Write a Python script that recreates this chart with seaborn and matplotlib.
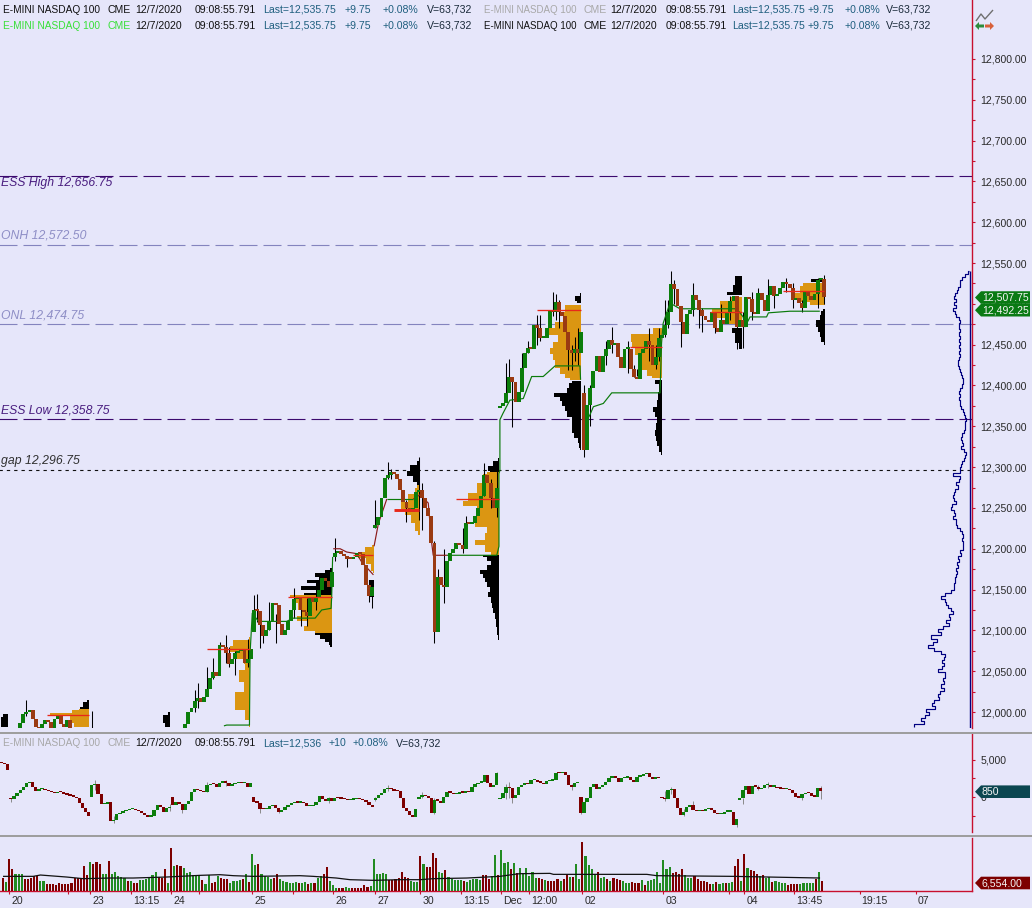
import numpy as np
import matplotlib
matplotlib.use("Agg")
import matplotlib.pyplot as plt
import seaborn as sns
from matplotlib.lines import Line2D
from matplotlib.patches import Polygon, Rectangle
from matplotlib.ticker import FixedLocator, FuncFormatter
from matplotlib.transforms import IdentityTransform, ScaledTranslation

W, H = 1032, 908
BG = "#E6E6FA"
AXIS_RED = "#C8102E"
UP = "#0B7D0B"
DOWN = "#9A3A12"
ORANGE = "#DB9612"
BLACK = "#000000"
BAR_PX = 3.115

# ---- main pane: closing prices per segment (first bar, values) ----
seg_a = (3, [11978, 11978, 11978, 11986, 11997, 12000, 12003, 11992, 11982, 11978, 11985, 11990, 11988, 11978, 11992,
             11995, 11985, 11982, 11990, 11980, 11976])
seg_b = (59, [11985, 12000, 12005, 12014, 12017, 12012, 12018, 12028, 12042, 12049, 12044, 12082, 12080, 12072, 12059,
              12065, 12072, 12075, 12077, 12060, 12065, 12077])
seg_c = (81, [12125, 12124, 12106, 12093, 12100, 12112, 12134, 12131, 12108, 12094, 12100, 12112, 12125, 12138, 12140,
              12125, 12122, 12118, 12141, 12135, 12140, 12150, 12164, 12160, 12153, 12171])
seg_d = (107, [12195, 12197, 12193, 12191, 12188, 12187, 12190, 12195, 12194, 12180, 12155, 12142, 12153])
seg_e = (120, [12229, 12239, 12262, 12287, 12290, 12294, 12292, 12285, 12272, 12257, 12250, 12245, 12250, 12270])
seg_f = (134, [12272, 12262, 12250, 12240, 12207, 12098, 12165, 12155, 12153, 12185, 12195, 12200, 12207, 12205, 12200,
               12232, 12230, 12232, 12240, 12250, 12265, 12290, 12280, 12262, 12250, 12275])
seg_g = (160, [12375, 12378, 12391, 12410, 12404, 12380, 12392, 12422, 12440, 12446, 12445, 12474, 12470, 12458, 12458,
               12471, 12492, 12490, 12502, 12490, 12485, 12465, 12443, 12440, 12445, 12440, 12465])
seg_h = (187, [12321, 12376, 12397, 12418, 12436, 12416, 12436, 12445, 12456, 12450, 12452, 12435, 12422, 12445, 12445,
               12420, 12410, 12408, 12440, 12445, 12455, 12450, 12425, 12435, 12458, 12462])
seg_i = (213, [12474, 12490, 12524, 12518, 12497, 12478, 12463, 12488, 12492, 12511, 12505, 12492, 12485, 12480, 12478,
               12490, 12470, 12465, 12480, 12475, 12490, 12503, 12510, 12472, 12480])
seg_j = (238, [12472, 12508, 12506, 12490, 12487, 12513, 12505, 12491, 12511, 12522, 12510, 12512, 12520, 12527, 12524,
               12520, 12505, 12507, 12501, 12495, 12515, 12510, 12505, 12512, 12529, 12530, 12508])
segments = [seg_a, seg_b, seg_c, seg_d, seg_e, seg_f, seg_g, seg_h, seg_i, seg_j]
gap_bars = [59, 81, 107, 120, 134, 160, 187]
gap_opens = [11975, 12098, 12190, 12225, 12270, 12372, 12391]

wick_bars = [8, 29, 62, 63, 66, 68, 70, 72, 73, 75, 79, 81, 82, 83, 84, 86, 88, 94, 96, 98, 101, 107, 111, 118, 119,
             120, 124, 125, 130, 134, 135, 139, 140, 142, 148, 149, 155, 157, 159, 162, 163, 164, 167, 169, 172, 173,
             177, 178, 179, 182, 183, 184, 185, 187, 189, 194, 196, 201, 203, 204, 208, 210, 211, 213, 214, 215, 216,
             218, 222, 224, 225, 229, 231, 234, 236, 238, 241, 243, 246, 248, 252, 254, 257, 262, 264]
wick_high = [12015, 12001, 12027, 12036, 12055, 12066, 12086, 12094, 12080, 12075, 12090, 12143, 12145, 12120, 12100,
             12135, 12120, 12152, 12140, 12140, 12155, 12213, 12190, 12160, 12160, 12260, 12306, 12298, 12260, 12312,
             12280, 12210, 12175, 12200, 12225, 12240, 12305, 12285, 12300, 12428, 12432, 12405, 12440, 12455, 12486,
             12486, 12515, 12512, 12505, 12465, 12450, 12460, 12470, 12400, 12400, 12455, 12472, 12455, 12425, 12420,
             12470, 12450, 12470, 12505, 12505, 12540, 12529, 12480, 12525, 12500, 12495, 12490, 12500, 12510, 12510,
             12490, 12515, 12520, 12530, 12520, 12532, 12525, 12505, 12532, 12535]
wick_low = [11995, 11970, 12000, 12005, 12020, 12040, 12050, 12060, 12055, 12045, 12055, 12100, 12110, 12078, 12085,
            12100, 12085, 12115, 12105, 12105, 12125, 12185, 12178, 12135, 12127, 12225, 12285, 12285, 12233, 12235,
            12223, 12085, 12146, 12134, 12195, 12210, 12265, 12250, 12239, 12385, 12395, 12349, 12405, 12440, 12450,
            12455, 12485, 12480, 12470, 12419, 12419, 12430, 12425, 12312, 12350, 12425, 12440, 12415, 12410, 12412,
            12430, 12420, 12430, 12460, 12470, 12500, 12500, 12447, 12485, 12470, 12465, 12464, 12470, 12480, 12445,
            12446, 12480, 12490, 12500, 12495, 12515, 12495, 12490, 12495, 12500]

# ---- session volume profiles: (prices, widths in bars) ----
p0a_end, p0a_black = 2.1, ([11982, 11990, 11998], [2.3, 2.3, 1.5])
p0b_end, p0b_black = 54.0, ([11982, 11992, 12000], [1.5, 2.3, 0.5])
p1_end = 28.1
p1_orange = ([11982, 11992, 11994, 11996, 11998, 12000, 12002, 12004], [4.8, 6.1, 6, 12.5, 12.5, 5.5, 5.5, 3.2])
p1_black = ([12004, 12009, 12015], [3.0, 2, 0.7])
p2_end = 79.8
p2_orange = ([11982, 11998, 12007, 12011, 12023, 12027, 12035, 12039, 12047, 12056, 12062, 12068, 12078, 12084, 12092],
             [0.2, 1.6, 5, 5, 5, 2.1, 2.1, 3.7, 3.7, 1.6, 2, 4.3, 6.4, 5.4, 0.2])
p3_end = 106.0
p3_low = ([12080, 12084, 12088, 12092, 12097], [0.5, 1, 2.1, 3.8, 5.5])
p3_orange = ([12097, 12101, 12109, 12115, 12121, 12129, 12137, 12143], [5.3, 9, 8, 11.2, 9.6, 10.7, 11.8, 13.4])
p3_high = ([12143, 12148, 12152, 12156, 12160, 12164, 12168, 12172, 12177], [9, 4, 10, 5, 8, 4, 5.3, 2.1, 0.5])
p4_end = 119.5
p4_low = ([12141, 12162], [1.5, 1.5])
p4_orange = ([12170, 12176, 12186, 12192, 12199, 12205], [0.2, 0.8, 2.4, 5, 2.9, 0.4])
p5_end = 134.3
p5_orange = ([12217, 12227, 12237, 12245, 12252, 12262, 12272, 12278], [0.5, 1.6, 2.7, 4.8, 5.9, 3.7, 1.6, 1])
p5_high = ([12278, 12286, 12292, 12298, 12307], [1, 2.1, 4, 3.2, 1])
p6_end = 159.7
p6_low = ([12088, 12100, 12109, 12118, 12125, 12131, 12137, 12144, 12150, 12156, 12162, 12167, 12172, 12177, 12182, 12187, 12192],
          [0.2, 0.5, 0.8, 1.3, 1.8, 2.1, 2.4, 3.4, 2.9, 4, 4.5, 5, 6.1, 4, 2.4, 4, 5])
p6_orange = ([12192, 12201, 12207, 12215, 12223, 12231, 12243, 12250, 12254, 12264, 12272, 12288, 12294],
             [2.4, 4.5, 7.7, 4.5, 4, 7.7, 7.2, 7, 11.5, 9.9, 7.2, 5, 4])
p6_high = ([12294, 12297, 12305, 12311], [3, 3.4, 2, 0.2])
p7_end = 185.9
p7_low = ([12321, 12327, 12333, 12339, 12345, 12352, 12358, 12366, 12372, 12378, 12383, 12388, 12394, 12400, 12405],
          [0.1, 0.5, 0.8, 2, 2.6, 2.8, 2.9, 4.5, 5, 6, 6.5, 8.5, 4.5, 3.6, 2.9])
p7_orange = ([12407, 12411, 12417, 12427, 12435, 12443, 12448, 12458, 12466, 12474, 12482, 12499],
             [3.4, 5, 6.6, 8.3, 8.8, 9.8, 8.8, 7.2, 10.4, 8.3, 5.6, 5])
p7_high = ([12501, 12507, 12513], [1.3, 1.8, 0.2])
p8_end = 212.0
p8_low = ([12315, 12322, 12329, 12335, 12341, 12350, 12358, 12364, 12370, 12378, 12387, 12396, 12407],
          [0.3, 1, 1.6, 2, 2.1, 1.9, 1.6, 2.2, 2.9, 1.6, 1.2, 1, 2.1])
p8_orange = ([12409, 12415, 12423, 12431, 12443, 12450, 12456, 12470], [3.2, 4.8, 7, 6.4, 8.6, 9.6, 10, 2.7])
p9_end = 237.6
p9_low = ([12445, 12458, 12470], [1, 2.1, 3.2])
p9_orange = ([12472, 12478, 12488, 12499, 12509], [1, 4.8, 9.6, 7, 3.7])
p9_high = ([12511, 12517, 12529, 12539], [4.8, 2.7, 2.1, 0])
p10_end = 264.5
p10_low = ([12450, 12456, 12462, 12468, 12476, 12484, 12489, 12494], [0.4, 1.3, 1.8, 2.3, 2.9, 1.8, 1.3, 0.8])
p10_orange = ([12499, 12505, 12509, 12517, 12526], [5, 8.8, 10.4, 8.3, 7.2])
p10_high = ([12527, 12535], [4.5, 0.2])

poc_price = [11996, 12077, 12141, 12192, 12247, 12261, 12493, 12447, 12490, 12516]
poc_start = [14.5, 65.9, 92, 113, 126, 146, 171.8, 201.7, 227.4, 251]
poc_end = [28.1, 79.8, 106, 119.4, 134, 159.7, 185.9, 212, 237.6, 264]
poc_width = [1, 1, 1, 1, 2.2, 1, 1, 1, 1, 1]

# ---- session VWAP line pieces ----
vwap_g1_x = [71.4, 72.3, 79.6, 79.8, 80.5, 82.5, 91.5, 93.7, 100.7, 102.8, 105.8, 106, 106.3]
vwap_g1_y = [11983, 11984, 11984, 12072, 12121, 12111, 12111, 12115, 12115, 12125, 12127, 12141, 12190]
vwap_r1_x = [106.5, 108.7, 110.8, 114, 115.6, 119.4]
vwap_r1_y = [12200, 12200, 12196, 12194, 12184, 12168]
vwap_r2_x = [119.6, 121, 123.7]
vwap_r2_y = [12203, 12231, 12261]
vwap_g2_x = [123.7, 132.2]
vwap_g2_y = [12261, 12261]
vwap_r3_x = [132.2, 134.3, 137, 138.1, 138.6, 143]
vwap_r3_y = [12261, 12266, 12256, 12207, 12192, 12192]
vwap_g3_x = [143, 159, 159.7, 159.7, 160, 160, 161, 163.2, 167.5, 170.2, 173.9, 177.7, 185.7, 185.9]
vwap_g3_y = [12192, 12192, 12203, 12292, 12296, 12358, 12366, 12382, 12384, 12411, 12411, 12424, 12424, 12407]
vwap_g4_x = [186.8, 188.9, 190, 193.2, 195.9, 211.4, 211.9, 212.4, 214.6, 217.8, 236, 238.1, 238.7, 240.3, 245.6, 246.2, 253.1, 262.7]
vwap_g4_y = [12350, 12364, 12374, 12378, 12391, 12391, 12452, 12476, 12501, 12494, 12494, 12484, 12472, 12484, 12484, 12489, 12491, 12491]

# ---- composite profile on the right (top row 12,540, one row per 3.75 points) ----
comp_top = 12540
comp_step = 3.75
comp_vol = [0.1, 0.6, 1.4, 2.3, 3.2, 3.2, 3.6, 3.9, 4.7, 4.9, 4.2, 5, 4.3, 5.4, 4.8, 4.2, 3.4, 2.9, 3.3, 3.3, 3, 3.3, 3,
            3.5, 3.2, 3.4, 3, 3.5, 3, 3.4, 3.6, 3.8, 3.3, 3.1, 2.7, 2.3, 2.1, 2.2, 2.4, 2.9, 3.4, 3.1, 3.3, 3, 3.2, 2.6,
            2.2, 1.9, 1.3, 1.0, 1.4, 1.6, 1.3, 1.9, 2.4, 2.6, 2.5, 2.2, 2.6, 1.7, 1.2, 1.5, 1.9, 2.4, 2.7, 3, 3.2, 5.2,
            2.9, 3.4, 4.2, 3.8, 4.6, 4.9, 5.3, 5.1, 4.3, 5.6, 6, 5, 4.7, 5.2, 4.4, 4.4, 3.9, 3, 2.5, 2.0, 2.5, 2.2, 2,
            2.1, 3, 2.8, 3.6, 3.3, 4, 3.6, 4.4, 3.9, 4.2, 4.5, 4.5, 5, 4.9, 6, 7.8, 9.2, 8, 7.6, 6.9, 5.9, 5.3, 6.5, 6.2,
            7.6, 6.6, 8.4, 10, 9.2, 12.2, 10.4, 11.6, 13.4, 11.4, 9.1, 7.8, 8.1, 8.8, 8.2, 8.7, 10, 7.9, 7.8, 8.6, 8.2,
            9.3, 8.2, 9.6, 10, 9.7, 11.3, 12, 11.2, 14, 13.1, 14.4, 15.7, 14.7, 17.7]

# ---- horizontal levels ----
level_names = ["ESS High 12,656.75", "ONH 12,572.50", "ONL 12,474.75", "ESS Low 12,358.75", "gap 12,296.75"]
level_values = [12656.75, 12572.50, 12474.75, 12358.75, 12296.75]
level_colors = ["#3C0A6E", "#8484BE", "#8484BE", "#3C0A6E", "#101010"]
level_text_colors = ["#4A1E80", "#8E8EC6", "#8E8EC6", "#4A1E80", "#303030"]

# ---- middle pane closes, bars 0..263 ----
mid_close = [4500, 4450, 3600, -250, 128, 485, 930, 1380, 1826, 1960, 1380, 800, 1020, 1110, 890, 755, 665, 485, 665, 620,
             395, 306, 172, 38, -185, -766, -1527, -1975, -2555, 1600, 1740, 350, -945, -945, -680, -3270, -3090, -2285,
             -2200, -1885, -1750, -1660, -1570, -1750, -1885, -2110, -2375, -2644, -2555, -1750, -1124, -1392, -2020,
             -1482, -1303, -1124, -722, -945, -1750, -945, -500, 710, 1066, 932, 800, 665, 1600, 1740, 1690, 1380, 1915,
             2000, 1915, 1470, 1690, 1826, 1915, 1826, 1826, 1290, 1826, -632, -766, -1570, -1660, -1570, -1214, -1035,
             -1527, -1975, -1750, -1392, -1080, -856, -677, -766, -722, -856, -1214, -1214, -1124, -632, 172, -230, -500,
             -185, -543, -95, -185, -230, -275, -409, -365, -320, -275, -320, -409, -632, -1124, -1348, -95, 260, 575,
             1020, 1110, 1020, 843, 755, -185, -1527, -1885, -2420, -2644, -1660, 38, 260, 128, -185, -2110, -409, -500,
             -766, 38, 620, 575, 350, 395, 665, 575, 800, 620, 1380, 1690, 1915, 2050, 2950, 1826, 1380, 1600, 3167, -95,
             485, 1380, 1156, -185, 260, 1380, 1600, 1826, 1740, 2273, 2273, 2050, 1915, 1740, 2140, 2185, 2273, 3255,
             3167, 3390, 2950, 1600, 1380, 1826, 1915, -2110, -632, -95, 1290, 1740, 1110, 1290, 1600, 2050, 2585, 2810,
             2495, 2050, 2495, 2585, 2630, 2273, 2050, 2720, 2810, 3033, 3167, 2720, 2452, 2585, 2495, -185, -275, 932,
             1020, -185, -1527, -2420, -1975, -1303, -1080, -1750, -1885, -1750, -1885, -1616, -1527, -1750, -2197, -2285,
             -2285, -1975, -1975, -1975, -3760, -3000, -185, 932, 1470, 350, 1470, 1380, 1020, 1156, 1600, 1600, 1380,
             1380, 1156, 1110, 1066, 1110, 932, 485, 38, -95, 395, 575, 485, 172, 38, 1156, 800]
mid_gap_bars = [0, 3, 29, 55, 81, 120, 134, 160, 186, 212, 237]
mid_gap_opens = [4600, -100, -50, -50, -40, -400, -300, -300, -50, -150, -400]
mid_wick_bars = [3, 30, 36, 54, 58, 66, 72, 83, 89, 105, 120, 124, 135, 139, 159, 162, 163, 164, 183, 186, 213, 215, 219,
                 222, 236, 238, 243, 246, 257, 263]
mid_wick_high = [-100, 2300, -2500, -900, -1000, 2000, 2300, -1000, -1500, 0, 0, 1600, 700, -200, 3400, 1700, 2000, 0, 1700,
                 0, 800, 1300, -1600, -500, -2900, -200, 1600, 2000, 300, 1500]
mid_wick_low = [-700, 1000, -3500, -1900, -2100, 700, 1500, -2100, -2200, -800, -500, 800, -200, -2300, 2600, -300, -100,
                -800, 1000, -2300, -500, 400, -2500, -1500, -4000, -900, 900, 1200, -400, -300]

# ---- volume pane: scale units per bar, 'r' down / 'g' up ----
vol_unit = 233
vol_a = [39, 28, 97, 67, 52, 52, 50, 35, 35, 38,
         45, 45, 30, 30, 22, 22, 22, 18, 25, 20,
         20, 22, 25, 38, 38, 38, 75, 48, 88, 80,
         88, 82, 52, 50, 90, 50, 57, 45, 42, 40,
         30, 30, 25, 25, 32, 32, 35, 38, 48, 57,
         42, 40, 65, 25, 130,
         75, 78, 75, 68, 55, 58, 48, 48, 48, 32,
         22, 48, 25, 28, 45, 38, 35, 35, 25, 30,
         30, 32, 35, 50, 28, 112, 78, 82, 50, 45,
         42, 35, 40, 50, 35, 30, 28, 25, 25, 28,
         25, 25, 28, 22, 25, 25, 38, 45, 52, 72,
         30, 18, 10, 10, 10, 12, 10, 10, 10, 10,
         10, 18, 12, 14, 97, 52, 52, 55, 52, 33,
         33, 35, 38, 58, 42, 38, 30, 28, 28, 105,
         82, 72, 72, 115, 100, 58, 55, 62, 42, 35,
         32, 32, 32, 30, 28, 32, 35, 35, 32, 48,
         48, 35, 45, 108, 48, 124, 85, 88, 65, 85,
         55, 68, 55]
col_a = ("rgrrgggrrr" "rrggrrrrrr" "rrrrrrrrgr" "rrggrggggg" "rgrrgggggg" "rrrgr"
         "grrggggggr" "ggrrgrrrgg" "ggrgrggrgg" "ggrrgggggg" "rggrgrggrr"
         "gggrrggrrr" "rrrggggggr" "rrrrrrgggr" "grrrrggrgg" "gggrgggggr" "rrggrgggrg" "rgg")
vol_b = [68, 45, 58, 40, 38, 35, 32, 30, 30, 30,
         35, 30, 35, 52, 42, 42, 80, 35, 147, 105,
         78, 65, 50, 57, 40, 42, 35, 30, 38, 35,
         32, 30, 25, 25, 28, 25, 25, 32, 18, 30,
         32, 35, 58, 25, 94, 65, 72, 55, 58, 52,
         65, 48, 40, 38, 45, 35, 30, 30, 28, 22,
         22, 28, 22, 25, 25, 25, 28, 75, 95, 30,
         112, 68, 62, 60, 50, 45, 48, 38, 42, 28,
         30, 28, 25, 25, 18, 20, 22, 22, 22, 25,
         25, 25, 25, 35, 58, 29]
col_b = ("ggggrrgrrr" "rgrrgrggrg" "gggrggrgrr" "rgggrrrgrg" "gggggggrrr"
         "rgggrrrrrr" "grggrggrrg" "rgrrrgrggr" "ggggrrrrgg" "gggrgr")
ma_bars = [0, 9.7, 12, 20.4, 25.8, 34.4, 41.8, 52.5, 63.2, 69.7, 74, 80.4, 95.3, 99.6, 107, 111.4, 119, 127.4, 134, 138,
           148.9, 159.5, 164.9, 166, 175.6, 176.7, 206.7, 209.9, 234.5, 262.3]
ma_height = [44, 44, 48, 42, 37, 39, 39, 42, 47, 49, 46, 44, 46, 44, 39, 34, 32, 34, 34, 37, 39, 44, 51, 52, 53, 50, 50,
             46, 44, 39]

x_tick_bars = [2, 28, 41, 54, 80, 106, 119.5, 134, 147, 160, 169, 186, 212, 238, 254, 275, 293]
x_tick_labels = ["20", "23", "13:15", "24", "25", "26", "27", "30", "13:15", "Dec", "12:00", "02", "03", "04", "13:45",
                 "19:15", "07"]
x_minor_bars = [21, 63, 93, 233]

sns.set_theme(style="white")
plt.rcParams["font.family"] = ["Liberation Sans", "DejaVu Sans"]
plt.rcParams["axes.facecolor"] = BG
plt.rcParams["figure.facecolor"] = BG
plt.rcParams["text.color"] = "#222222"
plt.rcParams["lines.solid_capstyle"] = "butt"

fig = plt.figure(figsize=(W / 100, H / 100), dpi=100)


def pane(top, bottom, x0):
    a = fig.add_axes([0, 1 - bottom / H, 1, (bottom - top) / H])
    a.set_xlim(-x0 / BAR_PX, (W - x0) / BAR_PX)
    for s in a.spines.values():
        s.set_visible(False)
    a.spines["right"].set_visible(True)
    a.spines["right"].set_color(AXIS_RED)
    a.spines["right"].set_linewidth(1.0)
    a.spines["right"].set_position(("data", (972 - x0) / BAR_PX))
    a.yaxis.tick_right()
    a.tick_params(axis="y", which="major", length=2.4, width=0.8, color=AXIS_RED, labelsize=7.6, pad=3.6,
                  labelcolor="#2a2a2a", direction="out")
    a.tick_params(axis="y", which="minor", length=2.0, width=0.8, color=AXIS_RED, direction="out")
    a.set_xticks([])
    a.grid(False)
    return a


def candles(a, xs, opens, closes, up, down, width, min_h):
    xs = np.asarray(xs, float)
    opens = np.asarray(opens, float)
    closes = np.asarray(closes, float)
    colors = [up if c >= o else down for o, c in zip(opens, closes)]
    lo = np.minimum(opens, closes)
    hgt = np.maximum(np.abs(closes - opens), min_h)
    a.bar(xs, hgt, bottom=lo, width=width, color=colors, linewidth=0, zorder=5)


# ======== main pane ========
ax = pane(0, 728, 1.5)
ax.set_ylim(12000 + (712 - 728) * 1.2251, 12000 + 712 * 1.2251)
ax.yaxis.set_major_locator(FixedLocator(np.arange(12000, 12801, 50)))
ax.yaxis.set_minor_locator(FixedLocator(np.arange(11975, 12801, 25)))
ax.yaxis.set_major_formatter(FuncFormatter(lambda v, _: f"{v:,.2f}"))

line_styles = [(0, (16.2, 5.4)), (0, (16.2, 5.4)), (0, (16.2, 5.4)), (0, (16.2, 5.4)), (0, (3, 3.6))]
line_widths = [0.8, 0.8, 0.8, 0.8, 0.8]
offsets = [-7, 9, 9, 9, 9]
xr_main = (972 - 1.5) / BAR_PX
for name, val, col, tcol, ls, lw, off in zip(level_names, level_values, level_colors, level_text_colors, line_styles,
                                              line_widths, offsets):
    ax.hlines(val, -1, xr_main, color=col, linestyle=ls, linewidth=lw, zorder=2)
    ax.annotate(name, (0, val), xytext=(0.7, off * 0.72), textcoords="offset points", style="italic", fontsize=8.8,
                color=tcol, va="center", ha="left", annotation_clip=False, zorder=8,
                xycoords=("axes fraction", "data"))

profiles = [
    (p0a_end, [(p0a_black, BLACK)]),
    (p0b_end, [(p0b_black, BLACK)]),
    (p1_end, [(p1_orange, ORANGE), (p1_black, BLACK)]),
    (p2_end, [(p2_orange, ORANGE)]),
    (p3_end, [(p3_low, BLACK), (p3_orange, ORANGE), (p3_high, BLACK)]),
    (p4_end, [(p4_low, BLACK), (p4_orange, ORANGE)]),
    (p5_end, [(p5_orange, ORANGE), (p5_high, BLACK)]),
    (p6_end, [(p6_low, BLACK), (p6_orange, ORANGE), (p6_high, BLACK)]),
    (p7_end, [(p7_low, BLACK), (p7_orange, ORANGE), (p7_high, BLACK)]),
    (p8_end, [(p8_low, BLACK), (p8_orange, ORANGE)]),
    (p9_end, [(p9_low, BLACK), (p9_orange, ORANGE), (p9_high, BLACK)]),
    (p10_end, [(p10_low, BLACK), (p10_orange, ORANGE), (p10_high, BLACK)]),
]
for end, parts in profiles:
    for (levels, widths), col in parts:
        ax.fill_betweenx(levels, end - np.asarray(widths, float), end, color=col, linewidth=0, zorder=3, step="mid")

for pr, st, en, lw in zip(poc_price, poc_start, poc_end, poc_width):
    ax.hlines(pr, st, en, color="#E8281A", linewidth=lw * 0.95, zorder=6)

for xs, ys, col in [(vwap_g1_x, vwap_g1_y, "#0A7A0A"), (vwap_r1_x, vwap_r1_y, "#8B1A1A"), (vwap_r2_x, vwap_r2_y, "#8B1A1A"),
                    (vwap_g2_x, vwap_g2_y, "#0A7A0A"), (vwap_r3_x, vwap_r3_y, "#8B1A1A"), (vwap_g3_x, vwap_g3_y, "#0A7A0A"),
                    (vwap_g4_x, vwap_g4_y, "#0A7A0A")]:
    sns.lineplot(x=xs, y=ys, sort=False, estimator=None, color=col, linewidth=0.85, ax=ax, zorder=4.6, legend=False)

ax.vlines(wick_bars, wick_low, wick_high, color="#000000", linewidth=0.75, zorder=4.5)

closes = np.full(265, np.nan)
for start, vals in segments:
    closes[start:start + len(vals)] = vals
opens = np.r_[np.nan, closes[:-1]]
for b, o in zip(gap_bars, gap_opens):
    opens[b] = o
opens[3] = 11975
mask = ~np.isnan(closes) & ~np.isnan(opens)
candles(ax, np.arange(265)[mask], opens[mask], closes[mask], UP, DOWN, 1.25, 2.4)

comp_levels = comp_top - comp_step * np.arange(len(comp_vol))
comp_base = (969.5 - 1.5) / BAR_PX
sns.lineplot(x=comp_base - np.asarray(comp_vol), y=comp_levels, sort=False, estimator=None, drawstyle="steps-post",
             color="#000080", linewidth=0.85, ax=ax, legend=False, zorder=4)
ax.vlines(comp_base, comp_levels[-1] - 2, comp_levels[0], color="#000080", linewidth=1.0, zorder=4)
ax.set_xlabel("")
ax.set_ylabel("")

# ======== middle pane ========
ax2 = pane(734, 831.5, 1.5)
ax2.set_ylim((797 - 831.5) * 134, (797 - 734) * 134)
ax2.yaxis.set_major_locator(FixedLocator([0, 5000]))
ax2.yaxis.set_minor_locator(FixedLocator([-2500, 2500]))
ax2.yaxis.set_major_formatter(FuncFormatter(lambda v, _: f"{v:,.0f}"))
ax2.text((972 + 8 - 1.5) / BAR_PX, -5300, "-5,000", fontsize=7.6, color="#2a2a2a", va="center", ha="left", clip_on=True)
m = np.asarray(mid_close, float)
mo = np.r_[np.nan, m[:-1]]
for b, o in zip(mid_gap_bars, mid_gap_opens):
    mo[b] = o
ax2.vlines(mid_wick_bars, mid_wick_low, mid_wick_high, color="#8a8a8a", linewidth=0.7, zorder=3)
candles(ax2, np.arange(len(m)), mo, m, "#0B7D0B", "#7D0000", 1.05, 170)
ax2.set_xlabel("")

# ======== volume pane ========
ax3 = pane(838, 891, 3.0)
ax3.set_ylim(0, 53 * 700)
ax3.set_yticks([])
vol_h = np.r_[vol_a, vol_b].astype(float)
col_a_full = (col_a + "g" * len(vol_a))[:len(vol_a)]
col_b_full = (col_b + "g" * len(vol_b))[:len(vol_b)]
flags = col_a_full + col_b_full
bar_colors = ["#7D0000" if f == "r" else "#228B22" for f in flags]
vol_x = np.r_[np.arange(len(vol_a)), 263 - len(vol_b) + 1 + np.arange(len(vol_b))]
ax3.bar(vol_x, vol_h * vol_unit, width=0.68, color=bar_colors, linewidth=0, zorder=3)
sns.lineplot(x=ma_bars, y=np.asarray(ma_height) * vol_unit, sort=False, estimator=None, color="#111111", linewidth=0.9,
             ax=ax3, legend=False, zorder=4)
xr3 = (972 - 3) / BAR_PX
ax3.spines["bottom"].set_visible(True)
ax3.spines["bottom"].set_color(AXIS_RED)
ax3.spines["bottom"].set_linewidth(1.0)
ax3.spines["bottom"].set_bounds(-1, xr3)
ax3.set_xticks(x_tick_bars)
ax3.set_xticklabels(x_tick_labels, ha="left")
ax3.set_xticks(x_minor_bars, minor=True)
ax3.tick_params(axis="x", which="major", length=2.0, width=0.8, color=AXIS_RED, labelsize=7.6, pad=1.8,
                labelcolor="#2a2a2a", bottom=True)
ax3.tick_params(axis="x", which="minor", length=2.0, width=0.8, color=AXIS_RED, bottom=True)
shift = ScaledTranslation(2 / 100, 0, fig.dpi_scale_trans)
for lab in ax3.get_xticklabels():
    lab.set_transform(lab.get_transform() + shift)
ax3.set_ylabel("")

# ======== pixel-placed furniture ========
idt = IdentityTransform()


def px_y(y):
    return H - y


for y in (732.8, 835.8):
    fig.add_artist(Rectangle((0, px_y(y) - 0.9), W, 1.8, transform=idt, facecolor="#9E9E9E", edgecolor="none", zorder=20))
    fig.add_artist(Rectangle((0, px_y(y) - 1.6), W, 0.7, transform=idt, facecolor="#F5F5F5", edgecolor="none", zorder=20))


def price_tag(a, value, text, face, ycen=None):
    yc = a.transData.transform((0, value))[1] if ycen is None else px_y(ycen)
    hh = 6.3
    pts = [(975, yc), (981, yc + hh), (1030, yc + hh), (1030, yc - hh), (981, yc - hh)]
    fig.add_artist(Polygon(pts, closed=True, transform=idt, facecolor=face, edgecolor="none", zorder=21))
    fig.text(982 / W, yc / H, text, color="#F4F4F4", fontsize=7.6, va="center", ha="left", zorder=22)


price_tag(ax, 12507.75, "12,507.75", "#0A7A14")
price_tag(ax, 12492.25, "12,492.25", "#0A7A14")
price_tag(ax2, 850, "850", "#0B4650", ycen=791.7)
price_tag(ax3, 6554, "6,554.00", "#7D0000", ycen=883)

LAST = "#1F5F7F"
row_x_left = [3, 107, 135, 195, 263, 345, 383, 427]
row_x_right = [484, 583, 610, 666, 732, 808, 845, 886]
row_text = ["E-MINI NASDAQ 100", "CME", "12/7/2020", "09:08:55.791", "Last=12,535.75", "+9.75", "+0.08%", "V=63,732"]
row_mid_x = [3, 107, 135, 195, 263, 329, 353, 396]
row_mid_text = ["E-MINI NASDAQ 100", "CME", "12/7/2020", "09:08:55.791", "Last=12,536", "+10", "+0.08%", "V=63,732"]
col_rest = ["#111111", "#111111", LAST, LAST, LAST, "#1a2a3a"]


def header(xs, y, texts, name_color, name_size):
    colors = [name_color, name_color] + col_rest
    for k, (x, t, c) in enumerate(zip(xs, texts, colors)):
        size = name_size if k == 0 else 7.6
        fig.text(x / W, 1 - y / H, t, fontsize=size, color=c, va="center", ha="left", zorder=10)


header(row_x_left, 10, row_text, "#111111", 7.3)
header(row_x_left, 26, row_text, "#38E038", 7.3)
header(row_x_right, 10, row_text, "#A8A8A8", 7.0)
header(row_x_right, 26, row_text, "#111111", 7.0)
header(row_mid_x, 743, row_mid_text, "#A8A8A8", 7.3)

# corner icon
fig.add_artist(Line2D([976, 981, 985, 993], [px_y(21), px_y(14), px_y(19), px_y(10)], transform=idt, color="#707070",
                      linewidth=1.0, zorder=10))
fig.add_artist(Polygon([(975, px_y(26)), (979, px_y(22)), (979, px_y(24.5)), (984, px_y(24.5)), (984, px_y(27.5)),
                        (979, px_y(27.5)), (979, px_y(30))], transform=idt, facecolor="#2E8B3C", edgecolor="none", zorder=10))
fig.add_artist(Polygon([(994, px_y(26)), (990, px_y(22)), (990, px_y(24.5)), (985, px_y(24.5)), (985, px_y(27.5)),
                        (990, px_y(27.5)), (990, px_y(30))], transform=idt, facecolor="#D8603A", edgecolor="none", zorder=10))

fig.savefig("out.png", dpi=100, facecolor=BG)
